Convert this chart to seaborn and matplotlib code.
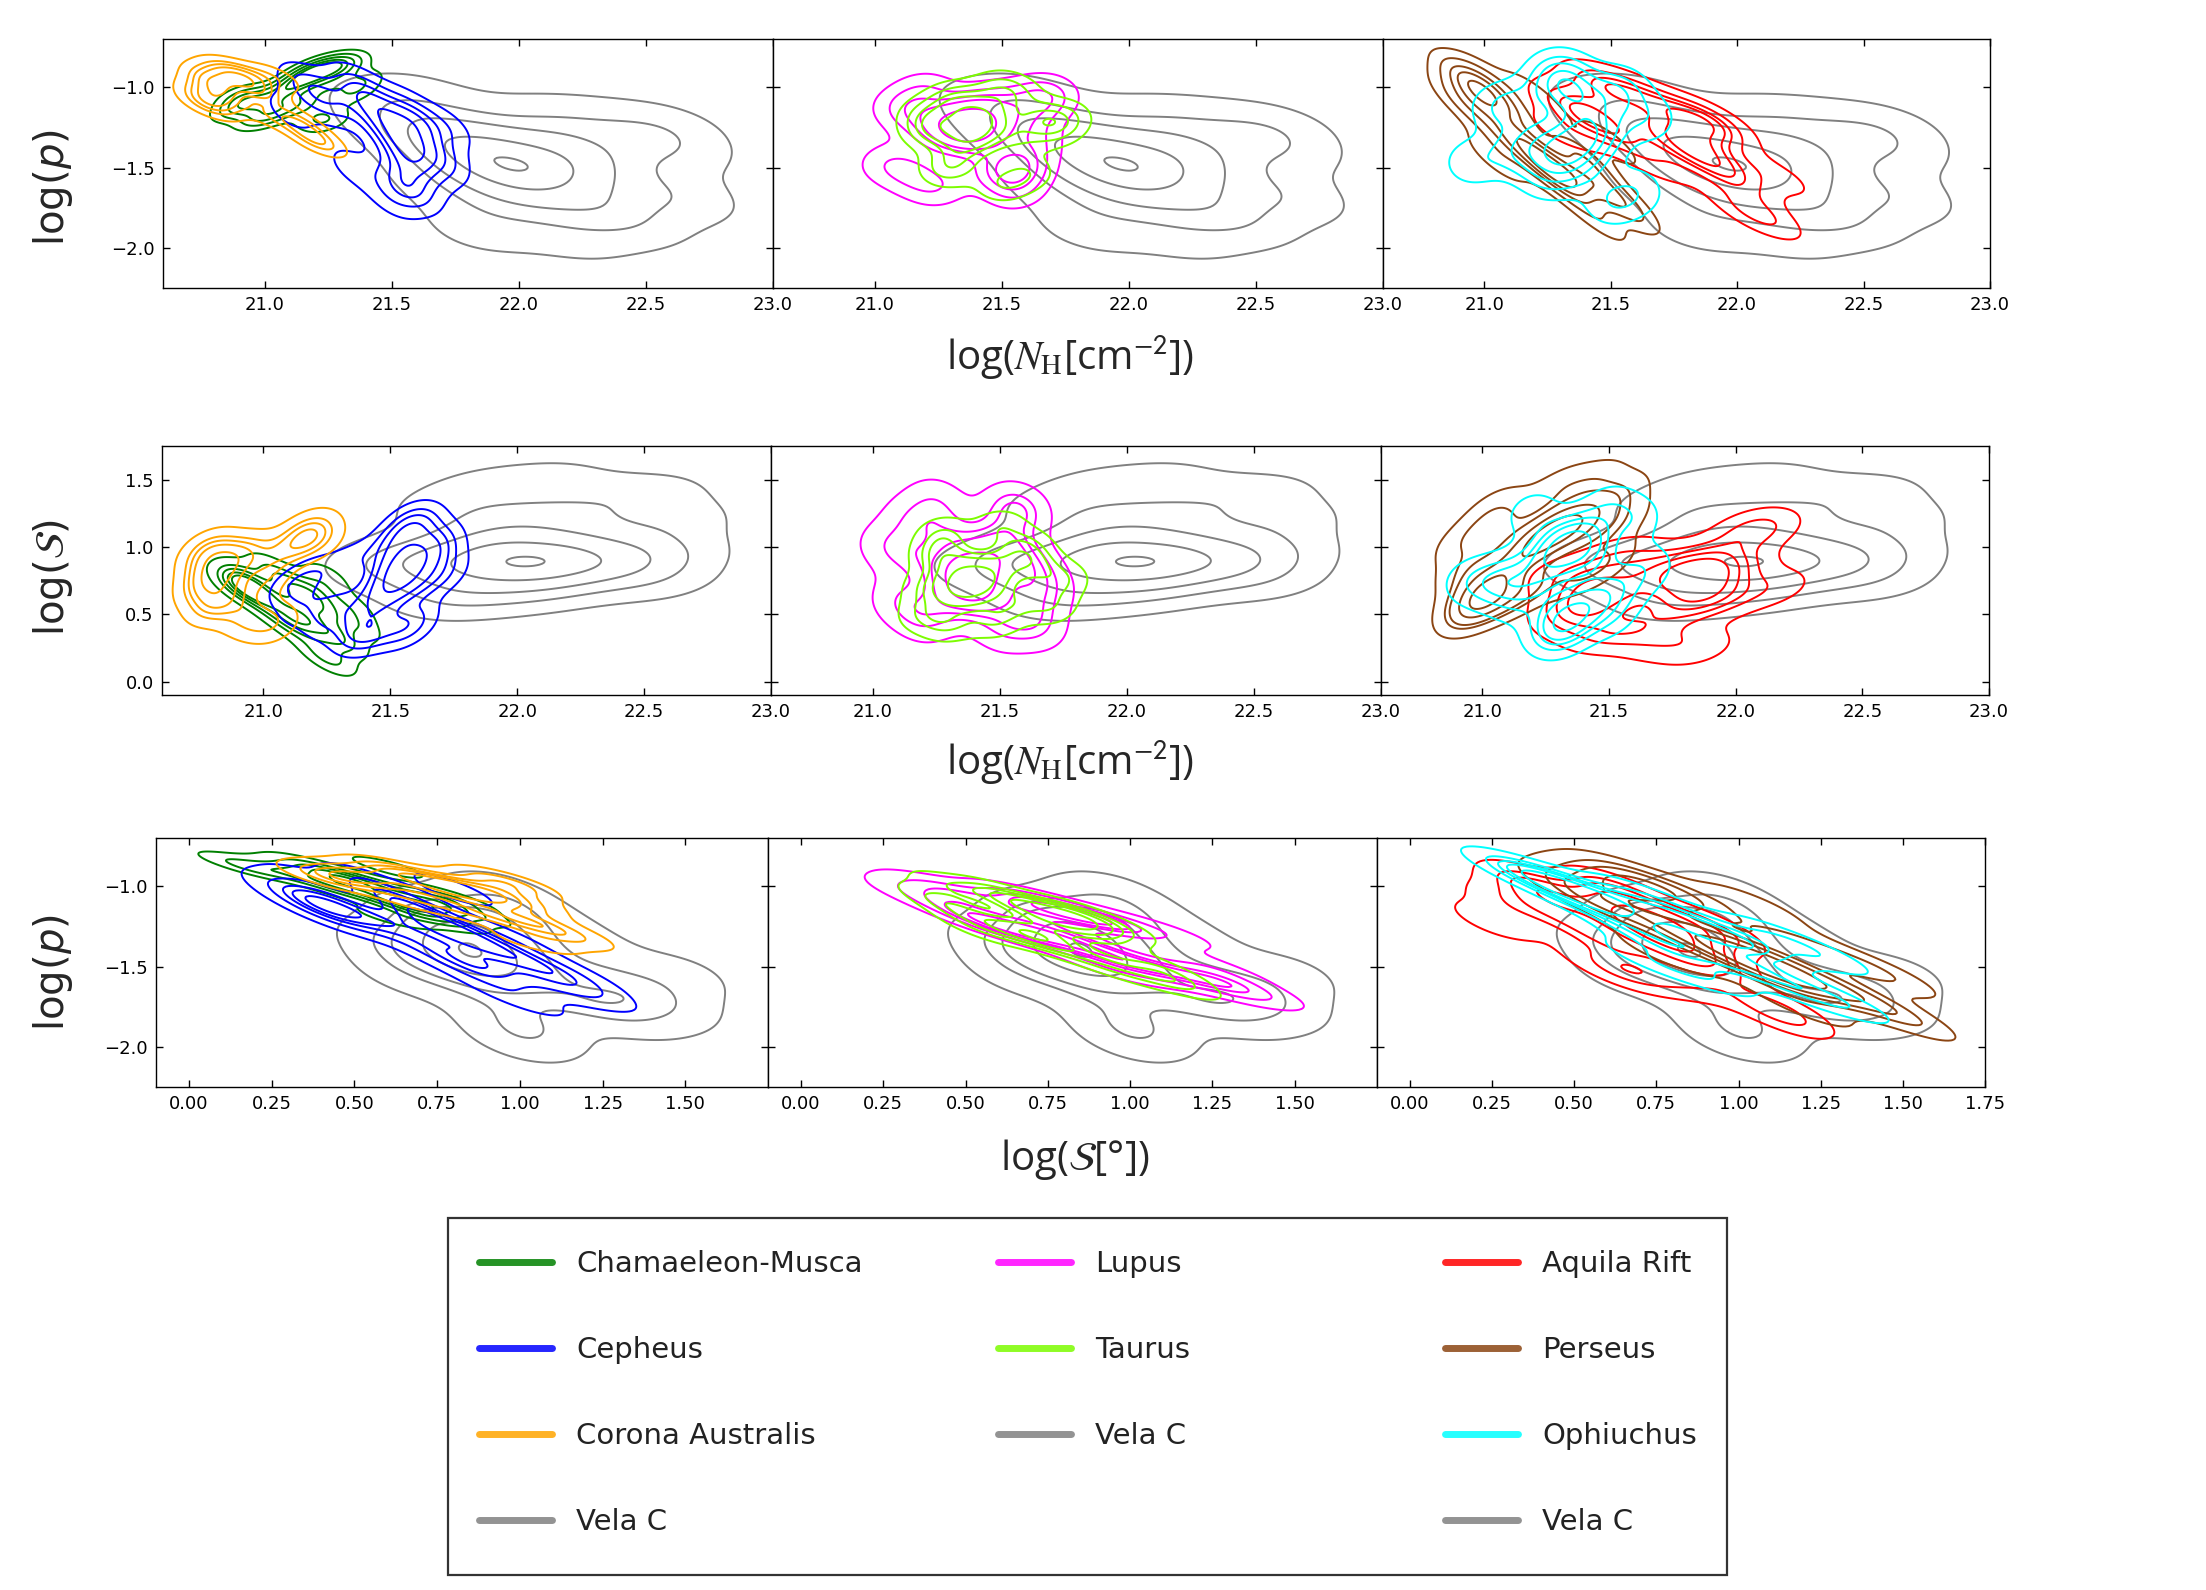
import numpy as np
import pandas as pd
import matplotlib
matplotlib.use("Agg")
import matplotlib.pyplot as plt
from matplotlib.lines import Line2D
from matplotlib.patches import Rectangle
from matplotlib import font_manager
import seaborn as sns

# estimated sample points per cloud: log N_H, log S, log p
vela_nh = [21.45, 21.55, 21.60, 21.65, 21.70, 21.72, 21.78, 21.80, 21.85, 21.88, 21.92, 21.95, 21.98,
           22.00, 22.02, 22.05, 22.08, 22.10, 22.12, 22.15, 22.18, 22.20, 22.25, 22.28, 22.32, 22.35,
           22.40, 22.45, 22.50, 22.55, 22.58, 22.62, 22.65, 21.90, 22.22, 21.75, 21.85]
vela_s = [0.90, 0.85, 0.95, 0.75, 1.30, 0.85, 0.70, 1.05, 0.90, 1.45, 0.80, 0.95, 0.65,
          0.88, 1.10, 0.92, 0.75, 1.25, 0.85, 1.50, 0.95, 0.70, 1.15, 0.85, 0.90, 1.35,
          0.80, 1.05, 0.90, 1.40, 0.75, 0.95, 1.20, 1.20, 1.00, 0.60, 1.00]
vela_p = [-1.10, -1.25, -1.05, -1.30, -1.60, -1.40, -1.45, -1.20, -1.50, -1.75, -1.35, -1.55, -1.55,
          -1.45, -1.65, -1.48, -1.20, -1.75, -1.55, -1.55, -1.35, -1.40, -1.50, -1.20, -1.70, -1.80,
          -1.45, -1.85, -1.30, -1.65, -1.25, -1.40, -1.70, -1.35, -1.95, -1.35, -1.90]

cham_nh = [21.22, 21.28, 21.25, 21.32, 21.18, 21.35, 21.20, 21.28, 21.15, 21.38, 20.90, 20.95,
           20.92, 21.00, 20.88, 21.02, 20.97, 21.10, 21.15, 21.08, 21.20, 21.12, 21.25, 21.05]
cham_s = [0.22, 0.35, 0.50, 0.28, 0.42, 0.55, 0.60, 0.15, 0.48, 0.40, 0.75, 0.70,
          0.80, 0.65, 0.72, 0.85, 0.62, 0.58, 0.65, 0.75, 0.70, 0.40, 0.78, 0.50]
cham_p = [-0.90, -0.86, -0.98, -0.88, -0.92, -1.04, -0.88, -0.86, -0.94, -0.96, -1.05, -1.08,
          -1.10, -1.12, -1.15, -1.18, -1.20, -1.00, -1.10, -1.12, -1.18, -0.98, -1.22, -1.05]

ceph_nh = [21.52, 21.56, 21.50, 21.58, 21.55, 21.48, 21.60, 21.53, 21.62, 21.15, 21.25, 21.35,
           21.20, 21.30, 21.40, 21.10, 21.55, 21.62, 21.50, 21.68, 21.58, 21.70, 21.42, 21.45,
           21.55, 21.60, 21.35, 21.72]
ceph_s = [0.80, 0.85, 0.70, 0.90, 0.75, 0.65, 0.95, 0.88, 0.72, 0.55, 0.45, 0.38,
          0.80, 0.60, 0.33, 0.70, 1.10, 1.15, 1.00, 1.05, 1.20, 0.95, 0.55, 0.40,
          0.38, 0.45, 0.90, 0.80]
ceph_p = [-1.30, -1.45, -1.18, -1.38, -1.42, -1.28, -1.32, -1.55, -1.25, -0.98, -1.12, -0.98,
          -1.02, -1.05, -1.03, -1.15, -1.62, -1.55, -1.70, -1.48, -1.65, -1.42, -1.18, -1.12,
          -1.12, -1.20, -1.50, -1.25]

cra_nh = [20.78, 20.80, 20.76, 20.82, 20.85, 20.79, 20.83, 20.75, 20.88, 20.81, 20.86,
          20.95, 20.92, 21.00, 20.98, 21.02, 21.15, 21.20, 21.12, 21.22, 21.05]
cra_s = [0.85, 0.75, 0.95, 0.65, 0.88, 0.55, 0.80, 0.70, 0.92, 1.00, 0.60,
         0.98, 0.50, 0.75, 0.45, 0.90, 1.08, 1.15, 1.00, 1.05, 0.42]
cra_p = [-1.02, -0.98, -1.05, -0.92, -1.08, -0.95, -1.00, -1.10, -0.95, -1.12, -0.90,
         -1.00, -0.92, -1.05, -0.95, -1.18, -1.25, -1.32, -1.20, -1.35, -0.94]

lupus_nh = [21.38, 21.40, 21.35, 21.42, 21.36, 21.45, 21.05, 21.10, 21.15, 21.20, 21.25, 21.30,
            21.55, 21.58, 21.60, 21.65, 21.68, 21.62, 21.50, 21.28, 21.18, 21.48, 21.55]
lupus_s = [0.70, 0.75, 0.85, 0.65, 0.80, 0.90, 1.00, 0.60, 1.20, 0.45, 1.35, 1.10,
           0.95, 1.25, 0.55, 0.40, 0.70, 0.85, 0.38, 0.60, 0.90, 1.05, 1.30]
lupus_p = [-1.12, -1.31, -1.20, -1.28, -1.27, -1.20, -1.47, -1.12, -1.55, -1.02, -1.63, -1.28,
           -1.52, -1.50, -1.22, -1.04, -1.08, -1.36, -1.08, -1.24, -1.20, -1.51, -1.65]

taurus_nh = [21.38, 21.40, 21.42, 21.36, 21.45, 21.35, 21.20, 21.25, 21.30, 21.28,
             21.55, 21.60, 21.65, 21.70, 21.75, 21.50, 21.48, 21.32, 21.55, 21.22]
taurus_s = [0.75, 0.72, 0.80, 0.70, 0.78, 0.65, 0.50, 0.95, 0.42, 1.10,
            0.60, 1.00, 0.85, 0.55, 0.75, 1.15, 0.45, 0.88, 0.90, 0.70]
taurus_p = [-1.25, -1.32, -1.18, -1.32, -1.18, -1.10, -1.17, -1.25, -1.08, -1.52,
            -1.05, -1.53, -1.18, -1.27, -1.19, -1.61, -1.00, -1.45, -1.30, -1.28]

aql_nh = [21.84, 21.82, 21.88, 21.80, 21.86, 21.90, 21.78, 21.35, 21.40, 21.45, 21.38, 21.50, 21.32,
          22.00, 22.05, 21.95, 22.10, 22.15, 21.70, 21.85, 21.60, 21.62, 21.68, 21.55, 21.48]
aql_s = [0.75, 0.65, 0.85, 0.55, 0.90, 0.70, 0.80, 0.55, 0.65, 0.75, 0.45, 0.60, 0.80,
         0.85, 1.10, 0.60, 1.15, 0.70, 0.30, 0.25, 0.40, 0.70, 0.88, 0.95, 0.35]
aql_p = [-1.28, -1.35, -1.22, -1.30, -1.45, -1.20, -1.38, -1.12, -1.05, -1.25, -1.15, -1.02, -1.28,
         -1.60, -1.75, -1.50, -1.82, -1.55, -1.10, -1.22, -1.02, -1.22, -1.48, -1.30, -0.98]

per_nh = [20.95, 20.98, 21.00, 20.93, 21.02, 20.97, 21.15, 21.25, 21.35, 21.40, 21.30, 21.20, 21.42,
          21.28, 21.05, 21.10, 21.20, 21.38, 21.50, 21.55, 21.45, 21.30, 21.08, 20.92, 21.55, 21.12]
per_s = [0.60, 0.75, 0.55, 0.85, 0.68, 0.52, 1.00, 1.10, 1.15, 1.05, 1.20, 0.95, 1.25,
         1.08, 1.30, 0.80, 0.70, 0.78, 0.90, 1.40, 1.50, 1.45, 1.15, 1.05, 1.20, 0.62]
per_p = [-0.97, -1.02, -1.00, -1.06, -0.95, -1.04, -1.35, -1.50, -1.55, -1.45, -1.60, -1.40, -1.58,
         -1.52, -1.45, -1.25, -1.05, -1.42, -1.35, -1.70, -1.82, -1.55, -1.35, -1.12, -1.75, -1.15]

oph_nh = [21.30, 21.35, 21.28, 21.38, 21.33, 21.30, 21.35, 21.40, 21.25, 21.38, 21.32, 21.45,
          21.05, 21.10, 21.15, 20.95, 21.55, 21.60, 21.65, 21.50, 21.45, 21.20, 21.50, 21.22]
oph_s = [0.40, 0.50, 0.35, 0.55, 0.45, 0.95, 1.00, 1.05, 0.90, 1.10, 0.98, 0.92,
         0.70, 0.80, 0.60, 0.75, 0.70, 1.20, 0.85, 1.30, 0.65, 1.25, 0.50, 0.75]
oph_p = [-0.95, -1.05, -0.92, -1.10, -0.98, -1.32, -1.48, -1.37, -1.56, -1.30, -1.46, -1.30,
         -1.13, -1.40, -1.10, -1.47, -1.05, -1.65, -1.20, -1.72, -1.22, -1.43, -1.02, -1.32]

panel_groups = [["Chamaeleon-Musca", "Cepheus", "Corona Australis"],
                ["Lupus", "Taurus"],
                ["Aquila Rift", "Perseus", "Ophiuchus"]]

regions = {
    "Vela C": ("grey", vela_nh, vela_s, vela_p),
    "Chamaeleon-Musca": ("green", cham_nh, cham_s, cham_p),
    "Cepheus": ("blue", ceph_nh, ceph_s, ceph_p),
    "Corona Australis": ("orange", cra_nh, cra_s, cra_p),
    "Lupus": ("magenta", lupus_nh, lupus_s, lupus_p),
    "Taurus": ("lawngreen", taurus_nh, taurus_s, taurus_p),
    "Aquila Rift": ("red", aql_nh, aql_s, aql_p),
    "Perseus": ("saddlebrown", per_nh, per_s, per_p),
    "Ophiuchus": ("cyan", oph_nh, oph_s, oph_p),
}
frames = {k: pd.DataFrame({"nh": v[1], "s": v[2], "p": v[3]}) for k, v in regions.items()}

sns.set_style("white")
plt.rcParams["font.family"] = ["DejaVu Sans"]
plt.rcParams["mathtext.fontset"] = "dejavusans"

installed = {f.name for f in font_manager.fontManager.ttflist}
label_font = next((f for f in ["Liberation Sans Narrow", "Open Sans", "Lato"] if f in installed),
                  "DejaVu Sans")

W, H = 2206, 1590
fig = plt.figure(figsize=(W / 100, H / 100), dpi=100)


def box(x0, y0, x1, y1):
    return [x0 / W, 1 - y1 / H, (x1 - x0) / W, (y1 - y0) / H]


nh_ticks = [21.0, 21.5, 22.0, 22.5, 23.0]
s_ticks = [0.0, 0.25, 0.5, 0.75, 1.0, 1.25, 1.5]
rows = [
    dict(x="nh", y="p", xlim=(20.6, 23.0), ylim=(-2.25, -0.7), yticks=[-2.0, -1.5, -1.0],
         edges=[163, 773, 1383, 1990], top=39, bottom=288,
         xticks=[nh_ticks, nh_ticks, nh_ticks]),
    dict(x="nh", y="s", xlim=(20.6, 23.0), ylim=(-0.1, 1.75), yticks=[0.0, 0.5, 1.0, 1.5],
         edges=[162, 771, 1381, 1989], top=446, bottom=695,
         xticks=[nh_ticks, nh_ticks, nh_ticks]),
    dict(x="s", y="p", xlim=(-0.1, 1.75), ylim=(-2.25, -0.7), yticks=[-2.0, -1.5, -1.0],
         edges=[156, 768, 1377, 1985], top=838, bottom=1087,
         xticks=[s_ticks, s_ticks, s_ticks + [1.75]]),
]

levels = [0.08, 0.27, 0.46, 0.65, 0.85]
vela_levels = [0.06, 0.3, 0.55, 0.8, 0.985]

for row in rows:
    for c, group in enumerate(panel_groups):
        e = row["edges"]
        ax = fig.add_axes(box(e[c], row["top"], e[c + 1], row["bottom"]))
        for name in ["Vela C"] + group:
            vela = name == "Vela C"
            sns.kdeplot(data=frames[name], x=row["x"], y=row["y"], ax=ax,
                        color=regions[name][0], linewidths=1.4,
                        bw_adjust=0.95 if vela else 0.8,
                        levels=vela_levels if vela else levels)
        ax.set(xlim=row["xlim"], ylim=row["ylim"], xlabel="", ylabel="")
        ax.set_xticks(row["xticks"][c])
        ax.set_yticks(row["yticks"])
        ax.tick_params(direction="in", top=True, right=True, bottom=True, left=True,
                       length=5, width=1, labelsize=13, pad=6, colors="black")
        if c > 0:
            ax.tick_params(labelleft=False)
        for sp in ax.spines.values():
            sp.set_color("black")
            sp.set_linewidth(1.0)

# axis titles
ylab = dict(rotation=90, fontsize=29, ha="center", va="center")
fig.text(53 / W, 1 - 188 / H, r"log($p$)", **ylab)
fig.text(53 / W, 1 - 578 / H, r"log($\mathcal{S}$)", **ylab)
fig.text(53 / W, 1 - 973 / H, r"log($p$)", **ylab)

xlab = dict(fontsize=29, ha="center", va="center", family=label_font, math_fontfamily="stix")
fig.text(1070 / W, 1 - 357 / H, r"log($N_{\rm H}$[cm$^{\mathsf{-2}}$])", **xlab)
fig.text(1070 / W, 1 - 762 / H, r"log($N_{\rm H}$[cm$^{\mathsf{-2}}$])", **xlab)
fig.text(1075 / W, 1 - 1160 / H, r"log($\mathcal{S}$[°])", **xlab)

# legend: three columns inside one frame
legend_cols = [
    ["Chamaeleon-Musca", "Cepheus", "Corona Australis", "Vela C"],
    ["Lupus", "Taurus", "Vela C"],
    ["Aquila Rift", "Perseus", "Ophiuchus", "Vela C"],
]
col_x = [479, 998, 1445]
for names, x in zip(legend_cols, col_x):
    handles = [Line2D([], [], color=regions[n][0], lw=5, alpha=0.85) for n in names]
    fig.legend(handles, names, loc="upper left", bbox_to_anchor=(x / W, 1 - 1250 / H),
               frameon=False, fontsize=21, handlelength=2.5, handletextpad=0.83,
               labelspacing=1.99, borderpad=0, borderaxespad=0, labelcolor="#222222")
fig.add_artist(Rectangle((448 / W, 1 - 1575 / H), 1279 / W, 357 / H, transform=fig.transFigure,
                         fill=False, edgecolor="#333333", linewidth=1.6))

fig.savefig("out.png", dpi=100, facecolor="white")
